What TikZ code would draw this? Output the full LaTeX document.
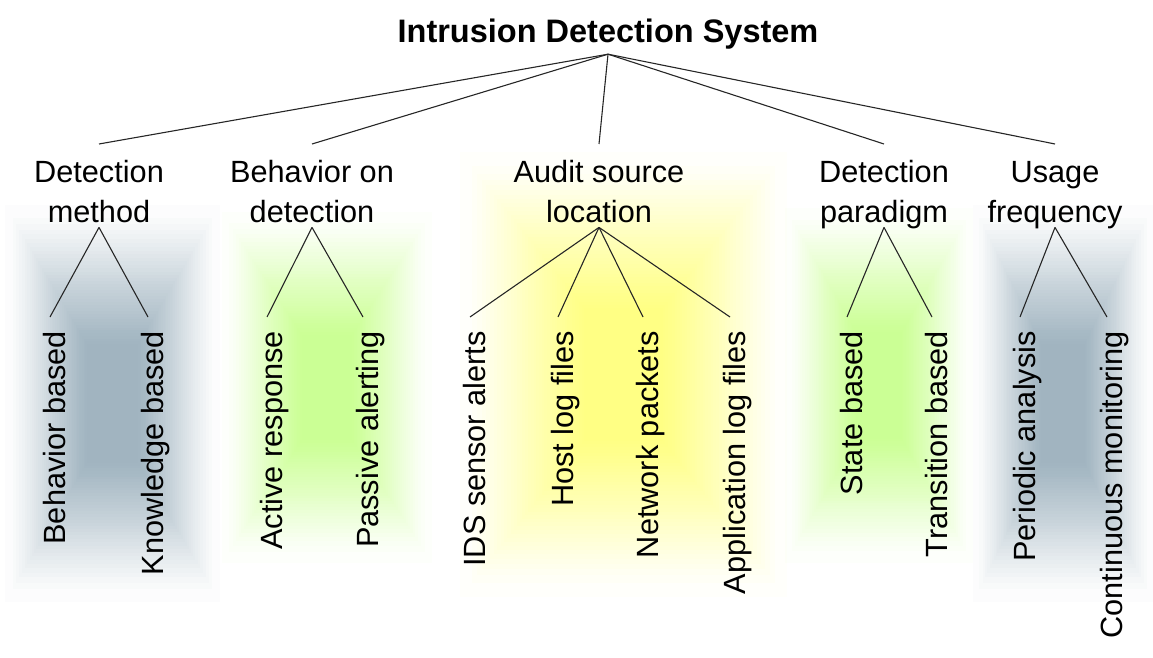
\documentclass[tikz,border=0pt]{standalone}
\usepackage{fontspec}
\setmainfont{Liberation Sans}
\definecolor{glowblue}{RGB}{82,118,140}
\definecolor{glowgreen}{RGB}{160,255,60}
\definecolor{glowyellow}{RGB}{255,255,30}

\begin{document}
\begin{tikzpicture}[x=1pt,y=1pt,
  cat/.style={align=center,inner sep=0pt,text height=78pt,text depth=5pt,anchor=north,font=\fontsize{30.7}{40}\selectfont},
  leaf/.style={rotate=90,anchor=base east,inner xsep=14pt,inner ysep=0pt,text height=30pt,text depth=0pt,font=\fontsize{30.7}{37}\selectfont},
  link/.style={draw=black!85,line width=1.1pt}]
\useasboundingbox (0,0) rectangle (1153,657);
% soft glow behind each group
\foreach \c/\xa/\ya/\xb/\yb in {glowblue/5/55/220/452,glowgreen/222/94/432/445,glowyellow/460/60/787/505,glowgreen/785/94/973/449,glowblue/973/55/1153/452}
  \foreach \i in {0,...,39}
    \fill[\c,fill opacity=.02] ({\xa+(\xb-\xa)*0.19*(\i/39+sqrt(\i/39))},{\ya+(\yb-\ya)*0.175*(\i/39+sqrt(\i/39))}) rectangle ({\xb-(\xb-\xa)*0.19*(\i/39+sqrt(\i/39))},{\yb-(\yb-\ya)*0.175*(\i/39+sqrt(\i/39))});
\node[font=\bfseries\fontsize{32.5}{38}\selectfont,inner sep=0pt,text depth=11pt,anchor=base] (ids) at (608,614) {Intrusion Detection System};
\node[cat] (dm) at (99,513) {Detection\\method};
\node[cat] (bod) at (312,513) {Behavior on\\detection};
\node[cat] (asl) at (599,513) {Audit source\\location};
\node[cat] (dp) at (884,513) {Detection\\paradigm};
\node[cat] (uf) at (1055,513) {Usage\\frequency};
\node[leaf] (bb) at (65,340) {Behavior based};
\node[leaf] (kb) at (163,340) {Knowledge based};
\node[leaf] (ar) at (282,340) {Active response};
\node[leaf] (pa) at (378,340) {Passive alerting};
\node[leaf] (isa) at (485,340) {IDS sensor alerts};
\node[leaf] (hlf) at (573,340) {Host log files};
\node[leaf] (np) at (658,340) {Network packets};
\node[leaf] (alf) at (745,340) {Application log files};
\node[leaf] (sb) at (862,340) {State based};
\node[leaf] (tb) at (947,340) {Transition based};
\node[leaf] (pan) at (1035,340) {Periodic analysis};
\node[leaf] (cm) at (1122,340) {Continuous monitoring};
\draw[link] (ids.south)--(dm.north);
\draw[link] (ids.south)--(bod.north);
\draw[link] (ids.south)--(asl.north);
\draw[link] (ids.south)--(dp.north);
\draw[link] (ids.south)--(uf.north);
\draw[link] (dm.south)--(bb.east);
\draw[link] (dm.south)--(kb.east);
\draw[link] (bod.south)--(ar.east);
\draw[link] (bod.south)--(pa.east);
\draw[link] (asl.south)--(isa.east);
\draw[link] (asl.south)--(hlf.east);
\draw[link] (asl.south)--(np.east);
\draw[link] (asl.south)--(alf.east);
\draw[link] (dp.south)--(sb.east);
\draw[link] (dp.south)--(tb.east);
\draw[link] (uf.south)--(pan.east);
\draw[link] (uf.south)--(cm.east);
\end{tikzpicture}
\end{document}
